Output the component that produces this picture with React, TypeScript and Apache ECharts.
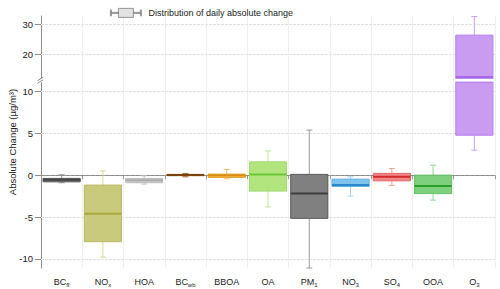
import React, { useEffect, useRef } from 'react';
import * as echarts from 'echarts';

// ---- data (original units, µg/m³) ----
const categoryBase = ['BC', 'NO', 'HOA', 'BC', 'BBOA', 'OA', 'PM', 'NO', 'SO', 'OOA', 'O'];
const categorySub = ['ff', 'x', '', 'wb', '', '', '1', '3', '4', '', '3'];
const whiskerLow = [-0.9, -9.8, -1.06, -0.19, -0.43, -3.8, -11.1, -2.5, -1.22, -2.98, 3.0];
const quartile1 = [-0.79, -7.95, -0.9, -0.05, -0.26, -1.9, -5.16, -1.34, -0.67, -2.2, 4.79];
const medians = [-0.55, -4.6, -0.6, 0.02, 0.0, 0.1, -2.2, -1.18, -0.19, -1.3, 12.45];
const quartile3 = [-0.38, -1.18, -0.38, 0.1, 0.13, 1.6, 0.1, -0.47, 0.22, 0.01, 26.4];
const whiskerHigh = [0.05, 0.53, -0.07, 0.2, 0.69, 2.9, 5.4, -0.19, 0.8, 1.2, 32.6];
const yTickValues = [-10, -5, 0, 5, 10, 20, 30];
const legendLabel = 'Distribution of daily absolute change';
const yAxisTitle = 'Absolute Change (\u00b5g/m\u00b3)';

// ---- styles ----
const fillColors = ['#6b6b6b', '#caca7c', '#cdcdcd', '#b8762e', '#f2b745', '#b3e57e', '#808080', '#80c3ec', '#f08888', '#7ecf7e', '#c99cf2'];
const borderColors = ['#575757', '#b9b961', '#bcbcbc', '#94591a', '#e6a126', '#9fdb6c', '#585858', '#5aaee0', '#e66060', '#62bf62', '#b37ff0'];
const medianColors = ['#454545', '#a9a93e', '#aaaaaa', '#7a4510', '#d98e12', '#6cc832', '#3e3e3e', '#2a88cc', '#d42a2a', '#2a9e2a', '#a466e6'];
const whiskerColors = ['#8f8f8f', '#d9d996', '#c6c6c6', '#a06a30', '#efc066', '#bde79a', '#9a9a9a', '#a6d3f0', '#f0a0a0', '#8fd68f', '#caa2f2'];

// broken axis: linear below BREAK, compressed above
const BREAK = 11.36;
const K = 0.359;
const fwd = (v: number) => (v <= BREAK ? v : BREAK + (v - BREAK) * K);
const inv = (t: number) => (t <= BREAK ? t : BREAK + (t - BREAK) / K);

const FONT = 'Liberation Sans, Arial, sans-serif';
const GRID_LEFT = 41;

export default function App() {
  const ref = useRef<HTMLDivElement>(null);

  useEffect(() => {
    const chart = echarts.init(ref.current!, null, { renderer: 'svg' });
    const categories = categoryBase.map((b, i) => b + categorySub[i]);
    const data = categories.map((_, i) => [
      i,
      fwd(whiskerLow[i]),
      fwd(quartile1[i]),
      fwd(medians[i]),
      fwd(quartile3[i]),
      fwd(whiskerHigh[i]),
    ]);
    const tickT = yTickValues.map(fwd);

    const renderItem = (params: any, api: any) => {
      const idx = api.value(0);
      const lo = api.coord([idx, api.value(1)]);
      const q1 = api.coord([idx, api.value(2)]);
      const md = api.coord([idx, api.value(3)]);
      const q3 = api.coord([idx, api.value(4)]);
      const hi = api.coord([idx, api.value(5)]);
      const band = api.size([1, 0])[0];
      const bw = band * 0.9;
      const cap = 6;
      const x = lo[0];
      const wStyle = { stroke: whiskerColors[idx], lineWidth: 1 };
      const children: any[] = [
        { type: 'line', shape: { x1: x, y1: hi[1], x2: x, y2: q3[1] }, style: wStyle },
        { type: 'line', shape: { x1: x, y1: q1[1], x2: x, y2: lo[1] }, style: wStyle },
        { type: 'line', shape: { x1: x - cap / 2, y1: hi[1], x2: x + cap / 2, y2: hi[1] }, style: wStyle },
        { type: 'line', shape: { x1: x - cap / 2, y1: lo[1], x2: x + cap / 2, y2: lo[1] }, style: wStyle },
        {
          type: 'rect',
          shape: { x: x - bw / 2, y: q3[1], width: bw, height: Math.max(q1[1] - q3[1], 1) },
          style: { fill: fillColors[idx], stroke: borderColors[idx], lineWidth: 1 },
        },
        {
          type: 'line',
          shape: { x1: x - bw / 2, y1: md[1], x2: x + bw / 2, y2: md[1] },
          style: { stroke: medianColors[idx], lineWidth: 2 },
        },
      ];
      if (api.value(2) < BREAK && api.value(4) > BREAK) {
        const yb = api.coord([idx, BREAK])[1];
        children.push(
          { type: 'rect', shape: { x: x - bw / 2 - 1, y: yb - 1.5, width: bw + 2, height: 3 }, style: { fill: '#ffffff' } },
          { type: 'line', shape: { x1: x - bw / 2, y1: yb - 2, x2: x + bw / 2, y2: yb - 2 }, style: { stroke: borderColors[idx], lineWidth: 1 } },
          { type: 'line', shape: { x1: x - bw / 2, y1: yb + 2, x2: x + bw / 2, y2: yb + 2 }, style: { stroke: borderColors[idx], lineWidth: 1 } }
        );
      }
      return { type: 'group', children };
    };

    const gridLines = tickT
      .filter((t, i) => yTickValues[i] !== 0)
      .map((t) => ({ yAxis: t, lineStyle: { color: '#e2e2e2', type: [3, 1], width: 1 } }));

    chart.setOption({
      animation: false,
      backgroundColor: '#ffffff',
      textStyle: { fontFamily: FONT },
      legend: {
        left: 105,
        top: 3,
        itemWidth: 31,
        itemHeight: 9,
        data: [
          {
            name: legendLabel,
            icon: 'path://M0 1.5H1V7.5H0Z M1 4H8V5H1Z M8 0H23V9H8Z M23 4H30V5H23Z M30 1.5H31V7.5H30Z',
          },
        ],
        itemStyle: { color: '#e3e3e3', borderColor: '#7d7d7d', borderWidth: 0.8 },
        textStyle: { fontSize: 9, color: '#222', fontFamily: FONT, padding: [0, 0, 0, 2] },
      },
      grid: { left: GRID_LEFT, right: 5, top: 16, bottom: 21, outerBoundsMode: 'none', containLabel: false },
      xAxis: {
        type: 'category',
        data: categories,
        offset: 5,
        axisLine: { show: true, lineStyle: { color: '#9a9a9a', width: 1 } },
        axisTick: { show: true, length: 4, lineStyle: { color: '#9a9a9a' } },
        splitLine: { show: true, lineStyle: { color: '#efefef', width: 1 } },
        axisLabel: {
          margin: 3,
          interval: 0,
          color: '#222',
          fontFamily: FONT,
          formatter: (_v: string, i: number) =>
            categorySub[i] ? `{m|${categoryBase[i]}}{s|${categorySub[i]}}` : `{m|${categoryBase[i]}}`,
          rich: {
            m: { fontSize: 9, color: '#222', fontFamily: FONT, lineHeight: 12, verticalAlign: 'middle' },
            s: { fontSize: 6, color: '#222', fontFamily: FONT, lineHeight: 6, padding: [7, 0, 0, 0], verticalAlign: 'bottom' },
          },
        },
      },
      yAxis: {
        type: 'value',
        min: -11.1,
        max: 19.05,
        name: yAxisTitle,
        nameLocation: 'middle',
        nameGap: 24,
        nameMoveOverlap: false,
        nameTextStyle: { fontSize: 9.5, color: '#222', fontFamily: FONT },
        axisLine: { show: true, lineStyle: { color: '#8c8c8c', width: 1 } },
        axisTick: { show: true, length: 6, customValues: tickT, lineStyle: { color: '#8c8c8c' } },
        splitLine: { show: false },
        axisLabel: {
          customValues: tickT,
          margin: 8,
          fontSize: 9.5,
          color: '#222',
          fontFamily: FONT,
          formatter: (v: number) => String(Math.round(inv(v))),
        },
      },
      series: [
        {
          name: legendLabel,
          type: 'custom',
          z: 2,
          itemStyle: { color: '#e3e3e3', borderColor: '#7d7d7d' },
          encode: { x: 0, y: [1, 2, 3, 4, 5] },
          data,
          renderItem,
          markLine: {
            silent: true,
            z: 1,
            symbol: ['none', 'none'],
            label: { show: false },
            data: [
              ...gridLines,
              { yAxis: 0, lineStyle: { color: '#8a8a8a', type: [3, 2], width: 1 } },
            ],
          },
        },
      ],
    });

    const yb = chart.convertToPixel({ yAxisIndex: 0 }, BREAK) as number;
    chart.setOption({
      graphic: [
        { type: 'rect', shape: { x: GRID_LEFT - 2.5, y: yb - 2, width: 4, height: 4 }, style: { fill: '#ffffff' }, z: 50 },
        { type: 'line', shape: { x1: GRID_LEFT - 3.5, y1: yb + 0.5, x2: GRID_LEFT + 2, y2: yb - 3 }, style: { stroke: '#8c8c8c', lineWidth: 1 }, z: 51 },
        { type: 'line', shape: { x1: GRID_LEFT - 3.5, y1: yb + 3, x2: GRID_LEFT + 2, y2: yb - 0.5 }, style: { stroke: '#8c8c8c', lineWidth: 1 }, z: 51 },
      ],
    });

    return () => chart.dispose();
  }, []);

  return (
    <div
      ref={ref}
      style={{ position: 'fixed', left: 0, top: 0, width: 500, height: 289, background: '#ffffff' }}
    />
  );
}
